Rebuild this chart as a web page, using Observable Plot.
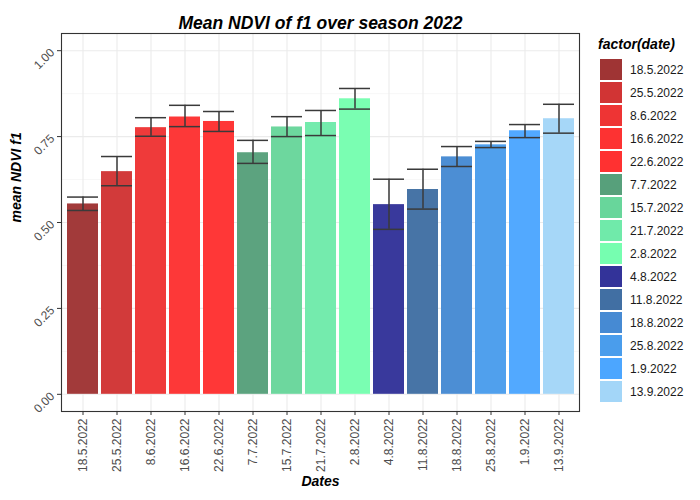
<!DOCTYPE html>
<html>
<head>
<meta charset="utf-8">
<script src="https://cdn.jsdelivr.net/npm/d3@7"></script>
<script src="https://cdn.jsdelivr.net/npm/@observablehq/plot@0.6"></script>
<style>
  body { margin: 0; background: #fff; font-family: "Liberation Sans", Arial, sans-serif; }
  #wrap { position: relative; width: 700px; height: 500px; }
  #chart { position: absolute; left: 0; top: 0; }
  #legend { position: absolute; left: 597px; top: 36px; }
  #legend .ttl { font-weight: bold; font-style: italic; font-size: 14px; color: #000; height: 22px; margin-left: 1px; }
  #legend .row { display: flex; align-items: center; height: 23px; }
  #legend .sw { width: 22px; height: 21px; margin-left: 3px; margin-right: 8px; }
  #legend .lb { font-size: 12px; color: #1a1a1a; }
</style>
</head>
<body>
<div id="wrap"><div id="chart"></div><div id="legend"></div></div>
<script>
const dates = ["18.5.2022","25.5.2022","8.6.2022","16.6.2022","22.6.2022","7.7.2022","15.7.2022","21.7.2022","2.8.2022","4.8.2022","11.8.2022","18.8.2022","25.8.2022","1.9.2022","13.9.2022"];
const meanNdvi = [0.554,0.648,0.776,0.807,0.794,0.703,0.778,0.791,0.860,0.552,0.596,0.691,0.726,0.767,0.802];
const errLow  = [0.535,0.607,0.751,0.779,0.765,0.672,0.750,0.753,0.830,0.480,0.539,0.663,0.718,0.747,0.760];
const errHigh = [0.574,0.692,0.805,0.841,0.823,0.739,0.808,0.826,0.890,0.626,0.655,0.721,0.736,0.785,0.844];
const colors = ["#9f3434","#d13434","#ee3434","#fd3232","#ff3131","#57a07b","#68d69b","#70eaaa","#76feb0","#333399","#416fa3","#468ad3","#4a9dec","#4ca6ff","#a3d6f8"];
const yTicks = [0, 0.25, 0.5, 0.75, 1];
const yMinor = [0.125, 0.375, 0.625, 0.875];
const titleText = "Mean NDVI of f1 over season 2022";
const xLabel = "Dates";
const yLabel = "mean NDVI f1";
const legendTitle = "factor(date)";

const data = dates.map((d, i) => ({date: d, mean: meanNdvi[i], lo: errLow[i], hi: errHigh[i], color: colors[i]}));
const font = "Liberation Sans, Arial, sans-serif";

const chart = Plot.plot({
  width: 700,
  height: 500,
  marginLeft: 61,
  marginRight: 121,
  marginTop: 33,
  marginBottom: 89,
  style: {fontFamily: font, background: "#fff"},
  x: {type: "band", domain: dates, paddingInner: 0.1, paddingOuter: 0.15, label: null},
  y: {domain: [-0.05, 1.05], label: null},
  color: {type: "ordinal", domain: dates, range: colors},
  marks: [
    Plot.ruleY(yMinor, {stroke: "#f2f2f2", strokeWidth: 0.6}),
    Plot.ruleY(yTicks, {stroke: "#ebebeb", strokeWidth: 1.1}),
    Plot.ruleX(dates, {x: d => d, stroke: "#ebebeb", strokeWidth: 1.1}),
    Plot.barY(data, {x: "date", y1: 0, y2: "mean", fill: "date", fillOpacity: 0.97}),
    Plot.ruleX(data, {x: "date", y1: "lo", y2: "hi", stroke: "#3a3a3a", strokeWidth: 1.5}),
    Plot.tickY(data, {x: "date", y: "lo", stroke: "#3a3a3a", strokeWidth: 1.5}),
    Plot.tickY(data, {x: "date", y: "hi", stroke: "#3a3a3a", strokeWidth: 1.5}),
    Plot.frame({stroke: "#333333", strokeWidth: 1.1}),
    Plot.axisX({tickSize: 4, tickPadding: 3, tickRotate: -90, fontSize: 12, color: "#4d4d4d", stroke: "#333333", label: null}),
    Plot.axisY({ticks: yTicks, tickFormat: ".2f", tickSize: 4, tickPadding: 5, tickRotate: -45, fontSize: 12, color: "#4d4d4d", stroke: "#333333", label: null}),
    Plot.text([titleText], {frameAnchor: "top", dy: -16.6, fontSize: 17.5, fontWeight: "bold", fontStyle: "italic", fill: "#000"}),
    Plot.text([xLabel], {frameAnchor: "bottom", dy: 74.5, fontSize: 14, fontWeight: "bold", fontStyle: "italic", fill: "#000"}),
    Plot.text([yLabel], {frameAnchor: "left", dx: -44.5, rotate: -90, fontSize: 14, fontWeight: "bold", fontStyle: "italic", fill: "#000"})
  ]
});
document.getElementById("chart").appendChild(chart);

const legend = document.getElementById("legend");
const t = document.createElement("div");
t.className = "ttl";
t.textContent = legendTitle;
legend.appendChild(t);
dates.forEach((d, i) => {
  const row = document.createElement("div");
  row.className = "row";
  const sw = document.createElement("div");
  sw.className = "sw";
  sw.style.background = colors[i];
  const lb = document.createElement("span");
  lb.className = "lb";
  lb.textContent = d;
  row.appendChild(sw);
  row.appendChild(lb);
  legend.appendChild(row);
});
</script>
</body>
</html>
